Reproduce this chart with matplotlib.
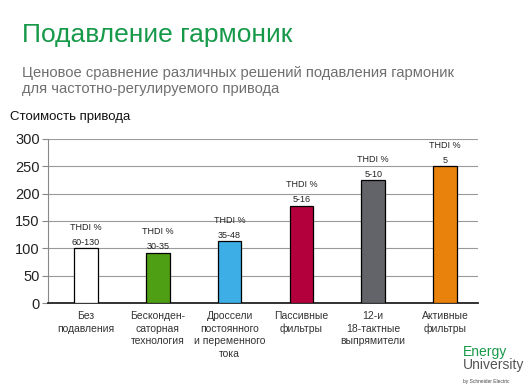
import matplotlib.pyplot as plt

plt.rcParams['font.family'] = ['Liberation Sans', 'DejaVu Sans']

categories = ["Без\nподавления", "Бесконден-\nсаторная\nтехнология",
              "Дроссели\nпостоянного\nи переменного\nтока", "Пассивные\nфильтры",
              "12-и\n18-тактные\nвыпрямители", "Активные\nфильтры"]
costs = [100, 92, 113, 178, 224, 250]
thdi = ["60-130", "30-35", "35-48", "5-16", "5-10", "5"]
bar_colors = ["#ffffff", "#4f9f14", "#3eaee6", "#b3003d", "#626469", "#e9820c"]
yticks = [0, 50, 100, 150, 200, 250, 300]

fig = plt.figure(figsize=(5.25, 3.9), dpi=100)
ax = fig.add_axes([0.0914, 0.223, 0.819, 0.421])

x = list(range(len(categories)))
ax.bar(x, costs, width=0.33, color=bar_colors, edgecolor="black", linewidth=0.9, zorder=3)

for xi, v, t in zip(x, costs, thdi):
    ax.text(xi, v + 3, t, ha="center", va="bottom", fontsize=6.5, color="#222222")
    ax.text(xi, v + 30, "THDI %", ha="center", va="bottom", fontsize=6.5, color="#222222")

ax.set_xlim(-0.53, 5.46)
ax.set_ylim(0, 300)
ax.set_yticks(yticks)
ax.set_yticklabels([str(t) for t in yticks], fontsize=10.5, color="#222222")
ax.yaxis.grid(True, color="#9a9a9a", linewidth=0.8, zorder=0)
ax.tick_params(axis="y", length=4, color="#888888", pad=2)
ax.set_xticks(x)
ax.set_xticklabels(categories, fontsize=7.5, color="#333333", linespacing=1.3)
ax.tick_params(axis="x", length=0, pad=6)
for s in ["top", "right"]:
    ax.spines[s].set_visible(False)
ax.spines["left"].set_color("#888888")
ax.spines["bottom"].set_color("#222222")
ax.spines["bottom"].set_linewidth(1.3)

fig.text(22 / 525, 1 - 35 / 390, "Подавление гармоник", fontsize=19, color="#17994a",
         va="center", ha="left")
fig.text(22 / 525, 1 - 81 / 390,
         "Ценовое сравнение различных решений подавления гармоник\nдля частотно-регулируемого привода",
         fontsize=10.65, color="#6f6f6f", va="center", ha="left", linespacing=1.1)
fig.text(10 / 525, 1 - 117 / 390, "Стоимость привода", fontsize=9.5, color="#111111",
         va="center", ha="left")

fig.text(463 / 525, 1 - 352 / 390, "Energy", fontsize=10, color="#17994a", va="center", ha="left")
fig.text(463 / 525, 1 - 365 / 390, "University", fontsize=10, color="#555555", va="center", ha="left")
fig.text(463 / 525, 1 - 381 / 390, "by Schneider Electric", fontsize=3.5, color="#444444",
         va="center", ha="left")

fig.savefig("out.png", dpi=100)
